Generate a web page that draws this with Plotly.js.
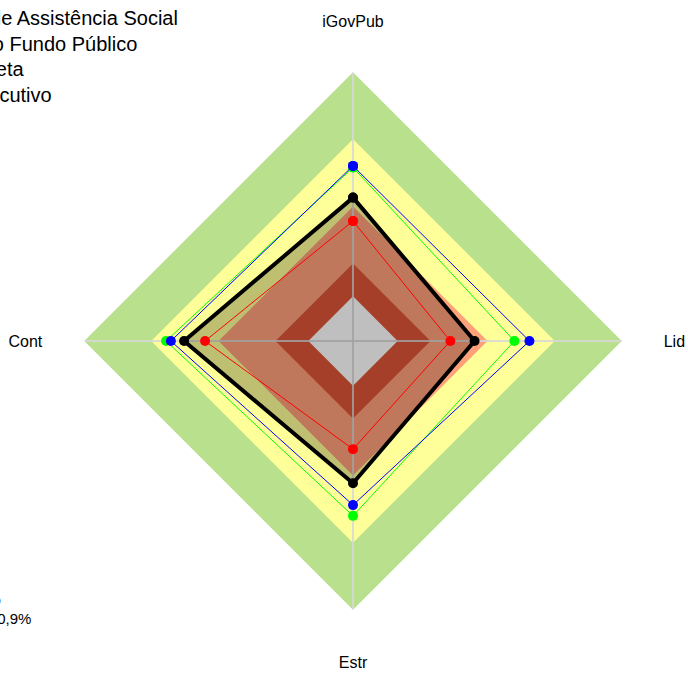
<!DOCTYPE html>
<html>
<head>
<meta charset="utf-8">
<script src="https://cdn.plot.ly/plotly-3.0.1.min.js"></script>
<style>html,body{margin:0;padding:0;background:#fff;}#chart{width:688px;height:675px;}</style>
</head>
<body>
<div id="chart"></div>
<script>
// ---- data ----
const categories = ["iGovPub", "Lid", "Estr", "Cont"];
const seriesNames = ["Conselho de Assistência Social", "Conselho Gestor do Fundo Público", "Administração Direta", "Poder Executivo"];
const seriesColors = ["#000000", "#FF0000", "#00FF00", "#0000FF"];
const valuesBlack = [0.533, 0.452, 0.529, 0.628];
const valuesRed = [0.446, 0.362, 0.402, 0.550];
const valuesGreen = [0.645, 0.600, 0.650, 0.695];
const valuesBlue = [0.651, 0.656, 0.610, 0.677];
const bandLevels = [1.0, 0.75, 0.5, 0.288, 0.166];
const bandColors = ["#B9E08D", "#FFFF99", "#FFA07A", "#DC5538", "#FFFFFF"];
const axisMax = 1.0;
const footerLines = ["Nível de capacidade: intermediário", "iGovPub: 60,9%"];

// ---- build ----
function closed(a) { return a.concat([a[0]]); }
const thetaC = closed(categories);
const traces = [];

bandLevels.forEach(function (lv, i) {
  traces.push({
    type: "scatterpolar", mode: "none", fill: "toself", fillcolor: bandColors[i],
    r: closed(categories.map(function () { return lv; })), theta: thetaC,
    hoverinfo: "skip", showlegend: false
  });
});

// spokes (axis lines through the centre)
[[0, 2], [1, 3]].forEach(function (p) {
  traces.push({
    type: "scatterpolar", mode: "lines",
    r: [axisMax, 0, axisMax], theta: [categories[p[0]], categories[p[0]], categories[p[1]]],
    line: { color: "rgba(215,215,215,0.85)", width: 2 }, hoverinfo: "skip", showlegend: false
  });
});

// black series with translucent fill
traces.push({
  type: "scatterpolar", mode: "none", fill: "toself", fillcolor: "rgba(0,0,0,0.25)",
  r: closed(valuesBlack), theta: thetaC, hoverinfo: "skip", showlegend: false
});

const seriesVals = [valuesRed, valuesGreen, valuesBlue];
const seriesIdx = [1, 2, 3];
seriesVals.forEach(function (v, k) {
  const i = seriesIdx[k];
  traces.push({
    type: "scatterpolar", mode: "lines+markers", name: seriesNames[i],
    r: closed(v), theta: thetaC,
    line: { color: seriesColors[i], width: 1 },
    marker: { color: seriesColors[i], size: 10 }, showlegend: false
  });
});
traces.push({
  type: "scatterpolar", mode: "lines+markers", name: seriesNames[0],
  r: closed(valuesBlack), theta: thetaC,
  line: { color: seriesColors[0], width: 4 },
  marker: { color: seriesColors[0], size: 10 }, showlegend: false
});

const fontFam = "Liberation Sans, Arial, sans-serif";
const annotations = [];
const legRight = [0.1782, 0.1030, -0.1060, -0.0560];
const legY = [1.1004, 1.0520, 1.0056, 0.9572];
seriesNames.forEach(function (n, i) {
  annotations.push({
    xref: "paper", yref: "paper", x: legRight[i], y: legY[i], xanchor: "right", yanchor: "middle",
    text: n, showarrow: false, font: { family: fontFam, size: 20, color: "#000" }
  });
});
annotations.push({
  xref: "paper", yref: "paper", x: -0.150, y: 0.020, xanchor: "right", yanchor: "middle",
  text: footerLines[0], showarrow: false, font: { family: fontFam, size: 15, color: "#000" }
});
annotations.push({
  xref: "paper", yref: "paper", x: -0.095, y: -0.015, xanchor: "right", yanchor: "middle",
  text: footerLines[1], showarrow: false, font: { family: fontFam, size: 15, color: "#000" }
});

const layout = {
  width: 688, height: 675,
  margin: { l: 84, r: 66, t: 72, b: 65, autoexpand: false },
  paper_bgcolor: "#FFFFFF",
  showlegend: false,
  font: { family: fontFam, color: "#000" },
  polar: {
    bgcolor: "rgba(0,0,0,0)",
    gridshape: "linear",
    domain: { x: [0, 1], y: [0, 1] },
    radialaxis: { visible: false, range: [0, axisMax] },
    angularaxis: {
      type: "category", categoryarray: categories, rotation: 90, direction: "clockwise",
      showgrid: false, showline: false, ticks: "outside", ticklen: 38, tickcolor: "rgba(0,0,0,0)",
      tickfont: { family: fontFam, size: 16, color: "#000" }
    }
  },
  annotations: annotations
};

Plotly.newPlot("chart", traces, layout, { displayModeBar: false, staticPlot: true });
</script>
</body>
</html>
